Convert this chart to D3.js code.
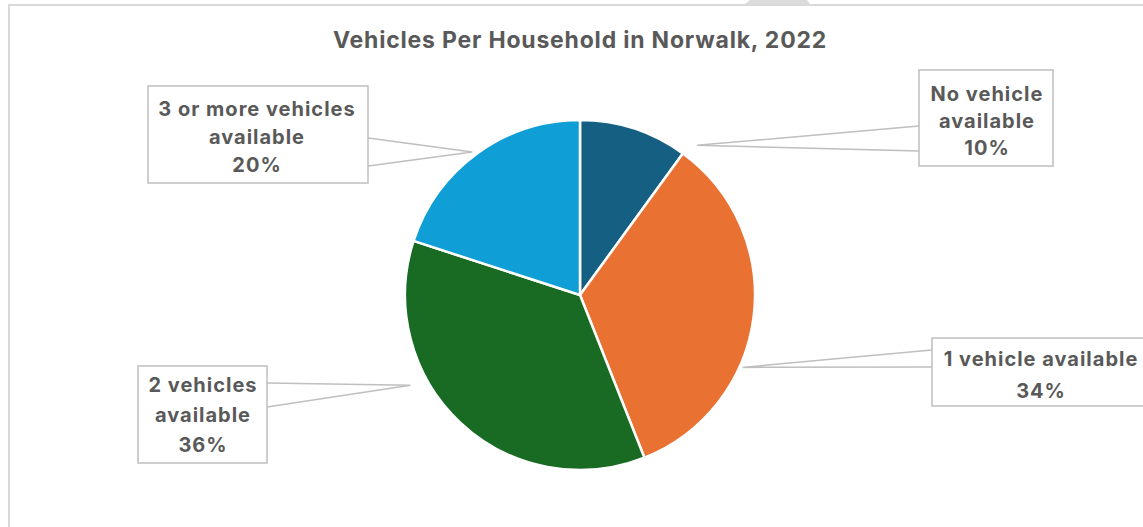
<!DOCTYPE html>
<head>
  <meta charset="utf-8">
  <script src="https://d3js.org/d3.v7.min.js"></script>
  <style>
    body { margin:0; background:#fff; overflow:hidden; }
    text { font-family: Inter, "Open Sans", sans-serif; font-weight: 700; fill: #595959; }
  </style>
</head>
<body>
<script>

// data
var categories = ["No vehicle available", "1 vehicle available", "2 vehicles available", "3 or more vehicles available"];
var shares = [10, 34, 36, 20];
var colors = ["#156082", "#E97132", "#196B24", "#0F9ED5"];

// label text lines (as Excel wraps them)
var labelLines = [
  ["No vehicle", "available"],
  ["1 vehicle available"],
  ["2 vehicles", "available"],
  ["3 or more vehicles", "available"]
];

// callout layout: box + where the pointer meets the pie (angle in deg, radius)
var callouts = [
  { x: 919, y: 70,  w: 134, h: 96, pAngle: 38,  pR: 190, y1: 126, y2: 151, side: "left",  tx: 987,  lh: 27, off: 3 },
  { x: 932, y: 338, w: 230, h: 68, pAngle: 114, pR: 178, y1: 350, y2: 367, side: "left",  tx: 1041, lh: 32, off: 3 },
  { x: 138, y: 366, w: 129, h: 97, pAngle: 242, pR: 192, y1: 383, y2: 407, side: "right", tx: 203,  lh: 30, off: 0 },
  { x: 148, y: 86,  w: 220, h: 97, pAngle: 323, pR: 179, y1: 138, y2: 166, side: "right", tx: 257,  lh: 28, off: 2 }
];

var width = 1143, height = 527,
    cx = 580, cy = 295, radius = 175;

var svg = d3.select("body").append("svg")
  .attr("width", width)
  .attr("height", height);

// chart frame (only top + left edge visible)
svg.append("path")
  .attr("d", "M9,527 V5 H1143")
  .attr("fill", "none")
  .attr("stroke", "#D9D9D9")
  .attr("stroke-width", 2);
svg.append("path")
  .attr("d", "M745,4 L750,0 H807 L810,4 Z")
  .attr("fill", "#DCDCDC");

svg.append("text")
  .attr("x", cx)
  .attr("y", 48)
  .attr("text-anchor", "middle")
  .style("font-size", "23px")
  .style("letter-spacing", "0.8px")
  .text("Vehicles Per Household in Norwalk, 2022");

var pie = d3.pie().sort(null).value(function(d) { return d; });
var arc = d3.arc().innerRadius(0).outerRadius(radius);

var g = svg.append("g")
  .attr("transform", "translate(" + cx + "," + cy + ")");

var arcs = pie(shares);

g.selectAll("path")
  .data(arcs)
  .enter().append("path")
  .attr("d", arc)
  .attr("fill", function(d, i) { return colors[i]; })
  .attr("stroke", "#fff")
  .attr("stroke-width", 2.5)
  .attr("stroke-linejoin", "round");

// callouts
var total = d3.sum(shares);
var fmt = d3.format(".0%");

callouts.forEach(function(c, i) {
  var a = c.pAngle * Math.PI / 180;
  var px = cx + c.pR * Math.sin(a),
      py = cy - c.pR * Math.cos(a);
  var ex = c.side === "left" ? c.x : c.x + c.w;

  svg.append("path")
    .attr("d", "M" + ex + "," + c.y1 + " L" + px + "," + py + " L" + ex + "," + c.y2)
    .attr("fill", "none")
    .attr("stroke", "#BFBFBF")
    .attr("stroke-width", 1.5);

  svg.append("rect")
    .attr("x", c.x).attr("y", c.y)
    .attr("width", c.w).attr("height", c.h)
    .attr("fill", "#fff")
    .attr("stroke", "#BFBFBF")
    .attr("stroke-width", 1.5);

  var lines = labelLines[i].concat([fmt(shares[i] / total)]);
  var top = c.y + c.h / 2 + c.off - (lines.length - 1) * c.lh / 2;
  var t = svg.append("text")
    .attr("text-anchor", "middle")
    .style("font-size", "20px")
    .style("letter-spacing", "1px");
  lines.forEach(function(s, j) {
    t.append("tspan")
      .attr("x", c.tx)
      .attr("y", top + j * c.lh)
      .attr("dy", "0.36em")
      .text(s);
  });
});

</script>
</body>
